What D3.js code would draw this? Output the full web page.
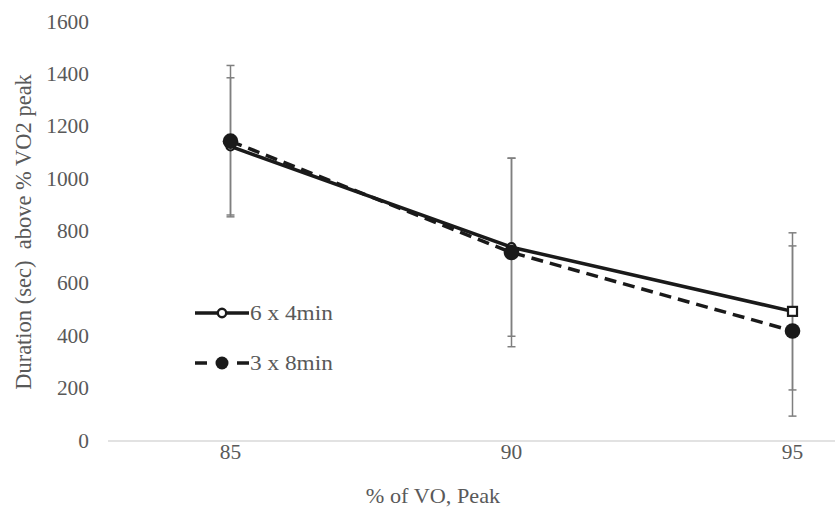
<!DOCTYPE html>
<html>
<head>
<meta charset="utf-8">
<script src="https://cdn.jsdelivr.net/npm/d3@7"></script>
<style>
  body { margin: 0; background: #fff; }
  svg { display: block; }
</style>
</head>
<body>
<div id="chart"></div>
<script>
// Data
const categories = ['85', '90', '95'];
const series1Name = '6 x 4min';
const series1Values = [1125, 740, 495];
const series1Sd = [262, 340, 300];
const series1Markers = ['circle', 'circle', 'square'];
const series2Name = '3 x 8min';
const series2Values = [1145, 720, 420];
const series2Sd = [289, 360, 325];
const yTicks = [0, 200, 400, 600, 800, 1000, 1200, 1400, 1600];

const width = 835;
const height = 510;
const font = '"Liberation Serif", "Times New Roman", serif';
const textColor = '#595959';
const ink = '#1a1a1a';

const svg = d3.select('#chart').append('svg')
    .attr('width', width)
    .attr('height', height);

// Scales
const x = d3.scalePoint().domain(categories).range([90, 933]).padding(0.5);
const y = d3.scaleLinear().domain([0, 1600]).range([441, 22]);

// Helper: text with a slight horizontal stretch like the original
function addText(px, py, str, size, anchor, sx, rotate) {
    const t = svg.append('text')
        .attr('transform', 'translate(' + px + ',' + py + ')' + (rotate ? ' rotate(' + rotate + ')' : '') + ' scale(' + sx + ',1)')
        .attr('text-anchor', anchor)
        .attr('font-family', font)
        .attr('font-size', size)
        .attr('fill', textColor)
        .style('white-space', 'pre')
        .text(str);
    return t;
}

// Axis line
svg.append('line')
    .attr('x1', 108).attr('x2', 835)
    .attr('y1', y(0)).attr('y2', y(0))
    .attr('stroke', '#d9d9d9').attr('stroke-width', 1.3);

// Y tick labels
yTicks.forEach(d => addText(89, y(d) + 6.5, String(d), 20, 'end', 1.07));

// X tick labels
categories.forEach(d => addText(x(d), 459, d, 20, 'middle', 1.07));

// Axis titles
addText(433, 503, '% of VO, Peak', 21, 'middle', 1.06);
addText(31, 232, 'Duration (sec)  above % VO2 peak', 22.5, 'middle', 1.0, -90);

// Error bars
function drawErrorBars(values, sds) {
    const g = svg.append('g');
    values.forEach((v, i) => {
        const cx = x(categories[i]);
        const hi = y(v + sds[i]);
        const lo = y(v - sds[i]);
        g.append('line')
            .attr('x1', cx).attr('x2', cx)
            .attr('y1', hi).attr('y2', lo)
            .attr('stroke', '#7f7f7f').attr('stroke-width', 1.5);
        [hi, lo].forEach(yy => {
            g.append('line')
                .attr('x1', cx - 4).attr('x2', cx + 4)
                .attr('y1', yy).attr('y2', yy)
                .attr('stroke', '#7f7f7f').attr('stroke-width', 1.5);
        });
    });
}
drawErrorBars(series1Values, series1Sd);
drawErrorBars(series2Values, series2Sd);

const line = d3.line()
    .x((d, i) => x(categories[i]))
    .y(d => y(d));

// Series 2 (dashed, filled circles)
svg.append('path')
    .datum(series2Values)
    .attr('d', line)
    .attr('fill', 'none')
    .attr('stroke', ink)
    .attr('stroke-width', 3.5)
    .attr('stroke-dasharray', '12,7');

// Series 1 (solid)
svg.append('path')
    .datum(series1Values)
    .attr('d', line)
    .attr('fill', 'none')
    .attr('stroke', ink)
    .attr('stroke-width', 3.5);

// Series 1 markers
series1Values.forEach((v, i) => {
    const cx = x(categories[i]);
    if (series1Markers[i] === 'square') {
        svg.append('rect')
            .attr('x', cx - 4.5).attr('y', y(v) - 4.5)
            .attr('width', 9).attr('height', 9)
            .attr('fill', '#fff').attr('stroke', ink).attr('stroke-width', 2.2);
    } else {
        svg.append('circle')
            .attr('cx', cx).attr('cy', y(v)).attr('r', 4)
            .attr('fill', '#fff').attr('stroke', ink).attr('stroke-width', 2.2);
    }
});

// Series 2 markers
svg.selectAll('.m2')
    .data(series2Values)
    .enter()
    .append('circle')
    .attr('cx', (d, i) => x(categories[i]))
    .attr('cy', d => y(d))
    .attr('r', 7.8)
    .attr('fill', ink);

// Legend
const legend = [
    {name: series1Name, y: 313, dashed: false},
    {name: series2Name, y: 363, dashed: true}
];
legend.forEach(l => {
    svg.append('line')
        .attr('x1', 195).attr('x2', 249)
        .attr('y1', l.y).attr('y2', l.y)
        .attr('stroke', ink).attr('stroke-width', 3.5)
        .attr('stroke-dasharray', l.dashed ? '12,30' : null);
    if (l.dashed) {
        svg.append('circle').attr('cx', 222).attr('cy', l.y).attr('r', 6.5).attr('fill', ink);
    } else {
        svg.append('circle').attr('cx', 222).attr('cy', l.y).attr('r', 4.2)
            .attr('fill', '#fff').attr('stroke', ink).attr('stroke-width', 2.4);
    }
    addText(250, l.y + 7, l.name, 22, 'start', 1.06);
});
</script>
</body>
</html>
